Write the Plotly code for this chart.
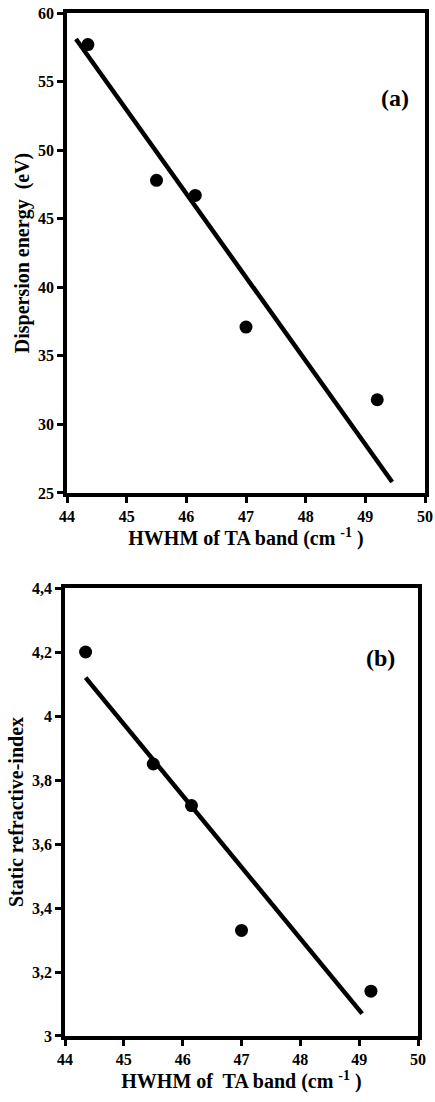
import plotly.graph_objects as go

# HWHM of the TA band (cm^-1) for each sample
hwhm = [44.35, 45.5, 46.15, 47.0, 49.2]

# Panel (a): dispersion energy (eV)
disp_energy = [57.7, 47.8, 46.7, 37.1, 31.8]
fit_a_x = [44.15, 49.45]
fit_a_y = [58.1, 25.8]

# Panel (b): static refractive index
refr_index = [4.20, 3.85, 3.72, 3.33, 3.14]
fit_b_x = [44.35, 49.05]
fit_b_y = [4.12, 3.07]

x_ticks = [44, 45, 46, 47, 48, 49, 50]
a_ticks = [25, 30, 35, 40, 45, 50, 55, 60]
b_ticks = [3.0, 3.2, 3.4, 3.6, 3.8, 4.0, 4.2, 4.4]
b_tick_text = ["3", "3,2", "3,4", "3,6", "3,8", "4", "4,2", "4,4"]

FONT = "Liberation Serif"


def bold(labels):
    return [f"<b>{t}</b>" for t in labels]


fig = go.Figure()

fig.add_trace(go.Scatter(x=fit_a_x, y=fit_a_y, mode="lines",
                         line=dict(color="black", width=4.5),
                         xaxis="x", yaxis="y", showlegend=False))
fig.add_trace(go.Scatter(x=hwhm, y=disp_energy, mode="markers",
                         marker=dict(color="black", size=13),
                         xaxis="x", yaxis="y", showlegend=False))

fig.add_trace(go.Scatter(x=fit_b_x, y=fit_b_y, mode="lines",
                         line=dict(color="black", width=4.5),
                         xaxis="x2", yaxis="y2", showlegend=False))
fig.add_trace(go.Scatter(x=hwhm, y=refr_index, mode="markers",
                         marker=dict(color="black", size=13),
                         xaxis="x2", yaxis="y2", showlegend=False))

axis_common = dict(
    showgrid=False, zeroline=False, showline=True, linecolor="black",
    linewidth=3.5, mirror=True, ticks="outside", ticklen=6, tickwidth=3,
    tickcolor="black", automargin=False,
    tickfont=dict(family=FONT, size=16, color="black"),
)

title_font = dict(family=FONT, size=20, color="black")

fig.update_layout(
    width=435, height=1102,
    margin=dict(l=65, r=10, t=13, b=66),
    paper_bgcolor="white", plot_bgcolor="white",
    xaxis=dict(axis_common, domain=[2 / 360, 1], range=[44, 50],
               tickvals=x_ticks, ticktext=bold([str(v) for v in x_ticks]),
               anchor="y",
               title=dict(text="<b>HWHM of TA band (cm <sup>-1</sup> )</b>",
                          font=title_font, standoff=3)),
    yaxis=dict(axis_common, domain=[0.5308, 1], range=[25, 60],
               tickvals=a_ticks, ticktext=bold([str(v) for v in a_ticks]),
               anchor="x",
               title=dict(text="<b>Dispersion energy  (eV)</b>",
                          font=title_font, standoff=4)),
    xaxis2=dict(axis_common, domain=[0, 353 / 360], range=[44, 50],
                tickvals=x_ticks, ticktext=bold([str(v) for v in x_ticks]),
                anchor="y2",
                title=dict(text="<b>HWHM of  TA band (cm <sup>-1</sup> )</b>",
                           font=title_font, standoff=8)),
    yaxis2=dict(axis_common, domain=[0, 0.4379], range=[3.0, 4.4],
                tickvals=b_ticks, ticktext=bold(b_tick_text), anchor="x2",
                title=dict(text="<b>Static refractive-index</b>",
                           font=title_font, standoff=4)),
    annotations=[
        dict(text="<b>(a)</b>", x=49.5, y=53.8, xref="x", yref="y",
             showarrow=False, font=dict(family=FONT, size=24, color="black")),
        dict(text="<b>(b)</b>", x=49.36, y=4.18, xref="x2", yref="y2",
             showarrow=False, font=dict(family=FONT, size=24, color="black")),
    ],
)

fig.write_html("out.html")
